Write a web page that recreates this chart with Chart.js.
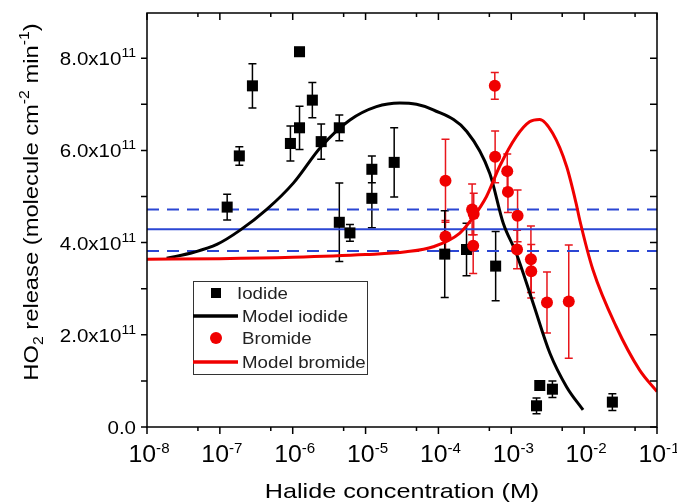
<!DOCTYPE html>
<html>
<head>
<meta charset="utf-8">
<script src="https://cdn.jsdelivr.net/npm/chart.js@4.4.0/dist/chart.umd.min.js"></script>
<style>
  html, body { margin: 0; padding: 0; background: #fff; }
  #wrap { width: 677px; height: 502px; }
</style>
</head>
<body>
<div id="wrap"><canvas id="chart" width="677" height="502"></canvas></div>
<script>
// HO2 release values in units of 1e11 molecule cm-2 min-1
const iodideX = [1.26e-7, 1.85e-7, 2.8e-7, 9.3e-7, 1.24e-6, 1.24e-6, 1.86e-6, 2.46e-6, 4.36e-6, 4.36e-6, 6.1e-6,
  1.22e-5, 1.22e-5, 2.47e-5, 1.22e-4, 2.43e-4, 6.1e-4, 2.22e-3, 2.46e-3, 3.67e-3, 2.44e-2];
const iodideY = [4.77, 5.88, 7.40, 6.15, 8.14, 6.49, 7.09, 6.19, 6.49, 4.44, 4.21,
  5.59, 4.96, 5.74, 3.75, 3.85, 3.49, 0.46, 0.90, 0.82, 0.54];
const iodideErr = [0.28, 0.20, 0.48, 0.38, 0.05, 0.47, 0.38, 0.38, 0.28, 0.85, 0.18,
  0.29, 0.64, 0.75, 0.94, 0.57, 0.75, 0.17, 0.05, 0.18, 0.18];

const bromideX = [1.25e-4, 1.25e-4, 2.9e-4, 3.05e-4, 3.0e-4, 5.94e-4, 6.0e-4, 8.8e-4, 9.0e-4, 1.22e-3, 1.2e-3,
  1.86e-3, 1.88e-3, 3.09e-3, 6.15e-3];
const bromideY = [5.34, 4.13, 4.72, 4.62, 3.93, 7.40, 5.86, 5.55, 5.10, 4.58, 3.85,
  3.64, 3.38, 2.70, 2.72];
const bromideErr = [0.90, 0.35, 0.55, 0.45, 0.60, 0.29, 0.56, 0.37, 0.45, 0.56, 0.42,
  0.72, 0.58, 0.66, 1.23];

const modelIodideX = [1.86e-8, 4.4e-8, 9.1e-8, 1.9e-7, 4.4e-7, 1.02e-6, 2.45e-6, 6.1e-6, 1.41e-5,
  2.95e-5, 5.0e-5, 8.5e-5, 2.45e-4, 5.07e-4, 7.76e-4, 1.17e-3, 2.0e-3, 3.39e-3, 5.75e-3, 9.66e-3];
const modelIodideY = [3.66, 3.79, 3.96, 4.27, 4.72, 5.29, 6.08, 6.66, 6.95,
  7.03, 7.00, 6.88, 6.41, 5.50, 4.42, 3.77, 2.68, 1.60, 0.87, 0.37];

const modelBromideX = [1e-8, 1e-7, 1e-6, 1e-5, 3.6e-5, 8.5e-5, 1.95e-4, 3.0e-4, 4.57e-4, 6.9e-4, 1.17e-3,
  1.78e-3, 2.45e-3, 3.7e-3, 5.75e-3, 7.76e-3, 8.7e-3, 1.32e-2, 2.75e-2, 5.75e-2, 1e-1];
const modelBromideY = [3.64, 3.65, 3.68, 3.74, 3.80, 3.91, 4.20, 4.55, 5.00, 5.65, 6.30,
  6.62, 6.67, 6.37, 5.65, 4.85, 4.49, 3.41, 2.18, 1.24, 0.77];

const meanLevel = 4.29;
const upperLevel = 4.72;
const lowerLevel = 3.82;

const xMin = 1e-8, xMax = 1e-1;
const yMin = 0, yMax = 8.98;
const xTickExponents = [-8, -7, -6, -5, -4, -3, -2, -1];
const xMinorTicks = [5e-8, 5e-7, 5e-6, 5e-5, 5e-4, 5e-3, 5e-2];
const yTickValues = [0, 2, 4, 6, 8];
const yTickLabels = ["0.0", "2.0x10", "4.0x10", "6.0x10", "8.0x10"];
const yTickPowers = ["", "11", "11", "11", "11"];
const yMinorTicks = [1, 3, 5, 7];

const FONT = "'Liberation Sans', Arial, Helvetica, sans-serif";
const BLUE = "#2b46d3";
const RED = "#f00000";

function hLine(y) {
  return [{ x: xMin, y: y }, { x: xMax, y: y }];
}

function pairs(xs, ys) {
  return xs.map((x, i) => ({ x: x, y: ys[i] }));
}

// draws text made of pieces (normal / sup / sub), stretched by k along the text
function richText(ctx, parts, x, y, align, k) {
  let w = 0;
  parts.forEach(p => {
    ctx.font = p.size + "px " + FONT;
    p.w = ctx.measureText(p.t).width;
    w += p.w;
  });
  ctx.save();
  ctx.translate(x, y);
  ctx.scale(k, 1);
  let cx = align === "right" ? -w : align === "center" ? -w / 2 : 0;
  ctx.textAlign = "left";
  ctx.textBaseline = "alphabetic";
  parts.forEach(p => {
    ctx.font = p.size + "px " + FONT;
    ctx.fillText(p.t, cx, p.dy || 0);
    cx += p.w;
  });
  ctx.restore();
}

const errorBars = {
  id: "errorBars",
  beforeDatasetsDraw(chart) {
    const ctx = chart.ctx;
    const ys = chart.scales.y;
    chart.data.datasets.forEach((ds, i) => {
      if (!ds.errors) return;
      const meta = chart.getDatasetMeta(i);
      ctx.save();
      ctx.strokeStyle = ds.errorColor;
      ctx.lineWidth = 1.5;
      meta.data.forEach((pt, j) => {
        const v = ds.data[j].y;
        const e = ds.errors[j];
        const top = ys.getPixelForValue(v + e);
        const bot = ys.getPixelForValue(v - e);
        ctx.beginPath();
        ctx.moveTo(pt.x, top);
        ctx.lineTo(pt.x, bot);
        ctx.moveTo(pt.x - 4, top);
        ctx.lineTo(pt.x + 4, top);
        ctx.moveTo(pt.x - 4, bot);
        ctx.lineTo(pt.x + 4, bot);
        ctx.stroke();
      });
      ctx.restore();
    });
  }
};

const frame = {
  id: "frame",
  afterDraw(chart) {
    const ctx = chart.ctx;
    const a = chart.chartArea;
    const xs = chart.scales.x;
    const ys = chart.scales.y;
    ctx.save();
    ctx.fillStyle = "#000";
    ctx.strokeStyle = "#000";
    ctx.lineWidth = 1.5;
    ctx.strokeRect(a.left, a.top, a.right - a.left, a.bottom - a.top);

    ctx.beginPath();
    xTickExponents.forEach(e => {
      const px = xs.getPixelForValue(Math.pow(10, e));
      ctx.moveTo(px, a.bottom); ctx.lineTo(px, a.bottom + 7);
      ctx.moveTo(px, a.top); ctx.lineTo(px, a.top + 7);
    });
    xMinorTicks.forEach(v => {
      const px = xs.getPixelForValue(v);
      ctx.moveTo(px, a.bottom); ctx.lineTo(px, a.bottom + 4);
      ctx.moveTo(px, a.top); ctx.lineTo(px, a.top + 4);
    });
    yTickValues.concat(yMinorTicks).forEach(v => {
      const py = ys.getPixelForValue(v);
      ctx.moveTo(a.left - 6, py); ctx.lineTo(a.left, py);
      ctx.moveTo(a.right - 7, py); ctx.lineTo(a.right, py);
    });
    ctx.stroke();

    // x tick labels
    xTickExponents.forEach(e => {
      const px = xs.getPixelForValue(Math.pow(10, e));
      richText(ctx, [
        { t: "10", size: 23 },
        { t: "-" + Math.abs(e), size: 14, dy: -9 }
      ], px + 2, a.bottom + 35, "center", 1.08);
    });

    // y tick labels
    yTickValues.forEach((v, i) => {
      const py = ys.getPixelForValue(v);
      const parts = [{ t: yTickLabels[i], size: 19 }];
      if (yTickPowers[i]) parts.push({ t: yTickPowers[i], size: 13, dy: -8 });
      richText(ctx, parts, a.left - 11, py + 7, "right", 1.08);
    });

    // axis titles
    richText(ctx, [{ t: "Halide concentration (M)", size: 21 }],
      (a.left + a.right) / 2, 498, "center", 1.2);

    ctx.save();
    ctx.translate(38, 202);
    ctx.rotate(-Math.PI / 2);
    richText(ctx, [
      { t: "HO", size: 21 },
      { t: "2", size: 14, dy: 5 },
      { t: " release (molecule cm", size: 21 },
      { t: "-2", size: 14, dy: -9 },
      { t: " min", size: 21 },
      { t: "-1", size: 14, dy: -9 },
      { t: ")", size: 21 }
    ], 0, 0, "center", 1.13);
    ctx.restore();

    // legend
    const lx = 193, ly = 281;
    ctx.fillStyle = "#fff";
    ctx.fillRect(lx, ly, 174, 93);
    ctx.lineWidth = 1;
    ctx.strokeStyle = "#333";
    ctx.strokeRect(lx + 0.5, ly + 0.5, 174, 93);
    ctx.fillStyle = "#000";
    ctx.fillRect(lx + 18, ly + 7, 10, 10);
    ctx.lineWidth = 3.5;
    ctx.strokeStyle = "#000";
    ctx.beginPath(); ctx.moveTo(lx, ly + 35); ctx.lineTo(lx + 45, ly + 35); ctx.stroke();
    ctx.fillStyle = RED;
    ctx.beginPath(); ctx.arc(lx + 23, ly + 57, 6, 0, Math.PI * 2); ctx.fill();
    ctx.strokeStyle = RED;
    ctx.beginPath(); ctx.moveTo(lx, ly + 81); ctx.lineTo(lx + 45, ly + 81); ctx.stroke();
    ctx.fillStyle = "#222";
    richText(ctx, [{ t: "Iodide", size: 17 }], lx + 44, ly + 18, "left", 1.1);
    richText(ctx, [{ t: "Model iodide", size: 17 }], lx + 49, ly + 41, "left", 1.1);
    richText(ctx, [{ t: "Bromide", size: 17 }], lx + 49, ly + 63, "left", 1.1);
    richText(ctx, [{ t: "Model bromide", size: 17 }], lx + 49, ly + 87, "left", 1.1);
    ctx.restore();
  }
};

new Chart(document.getElementById("chart"), {
  type: "scatter",
  data: {
    datasets: [
      {
        label: "Bromide",
        data: pairs(bromideX, bromideY),
        errors: bromideErr,
        errorColor: "#e8161c",
        pointStyle: "circle",
        pointRadius: 6,
        backgroundColor: RED,
        borderWidth: 0,
        order: 0
      },
      {
        label: "Iodide",
        data: pairs(iodideX, iodideY),
        errors: iodideErr,
        errorColor: "#000",
        pointStyle: "rect",
        pointRadius: 7.8,
        backgroundColor: "#000",
        borderWidth: 0,
        order: 1
      },
      {
        label: "Model bromide",
        type: "line",
        data: pairs(modelBromideX, modelBromideY),
        borderColor: RED,
        borderWidth: 3,
        pointRadius: 0,
        cubicInterpolationMode: "monotone",
        order: 2
      },
      {
        label: "Model iodide",
        type: "line",
        data: pairs(modelIodideX, modelIodideY),
        borderColor: "#000",
        borderWidth: 3,
        pointRadius: 0,
        cubicInterpolationMode: "monotone",
        order: 3
      },
      {
        label: "mean",
        type: "line",
        data: hLine(meanLevel),
        borderColor: BLUE,
        borderWidth: 2,
        pointRadius: 0,
        order: 4
      },
      {
        label: "upper",
        type: "line",
        data: hLine(upperLevel),
        borderColor: BLUE,
        borderWidth: 2,
        borderDash: [12, 8],
        pointRadius: 0,
        order: 4
      },
      {
        label: "lower",
        type: "line",
        data: hLine(lowerLevel),
        borderColor: BLUE,
        borderWidth: 2,
        borderDash: [12, 8],
        pointRadius: 0,
        order: 4
      }
    ]
  },
  options: {
    responsive: false,
    animation: false,
    devicePixelRatio: 1,
    layout: { padding: { left: 147, right: 20, top: 13, bottom: 75 } },
    scales: {
      x: { type: "logarithmic", min: xMin, max: xMax, display: false },
      y: { type: "linear", min: yMin, max: yMax, display: false }
    },
    plugins: {
      legend: { display: false },
      tooltip: { enabled: false }
    }
  },
  plugins: [errorBars, frame]
});
</script>
</body>
</html>
